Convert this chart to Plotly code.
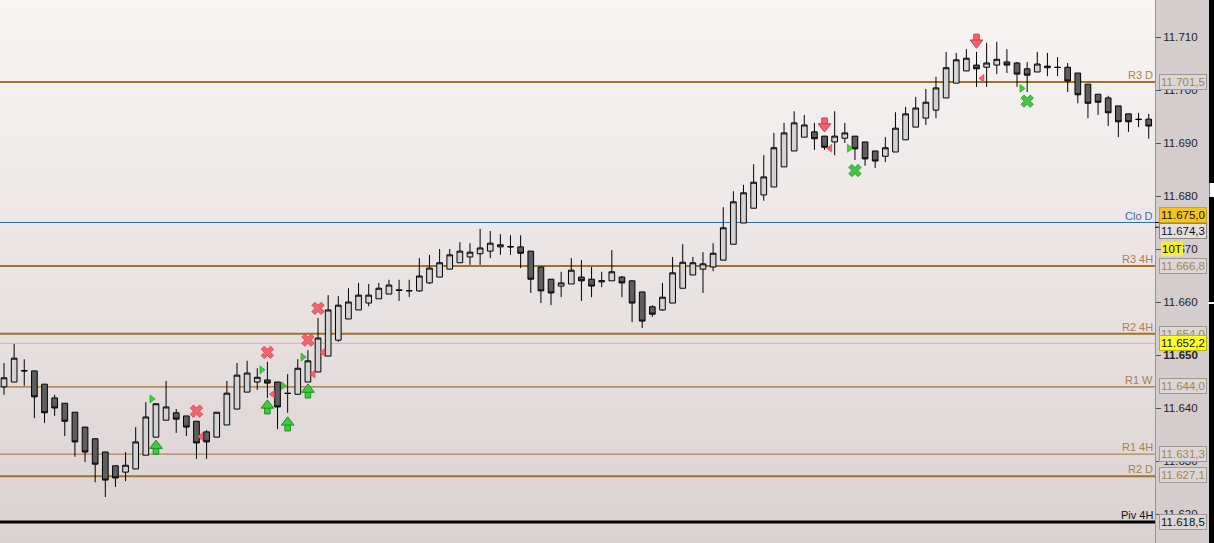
import plotly.graph_objects as go

# ---------------- data ----------------
open_ = [11.6440, 11.6449, 11.64708, 11.6470, 11.6445, 11.6419, 11.6409, 11.6392, 11.6364, 11.6342,
         11.6317, 11.6291, 11.6279, 11.6285, 11.6311, 11.6345, 11.6377, 11.6391, 11.6385, 11.6375,
         11.6355, 11.6345, 11.6368, 11.6398, 11.6430, 11.6449, 11.6453, 11.6449, 11.6428, 11.6426,
         11.6449, 11.6468, 11.6498, 11.6528, 11.6568, 11.6585, 11.6598, 11.6606, 11.6615, 11.6623,
         11.66217, 11.6621, 11.6636, 11.6647, 11.6662, 11.6674, 11.6685, 11.6691, 11.6696, 11.6704,
         11.67047, 11.6704, 11.6696, 11.6666, 11.6643, 11.6630, 11.6634, 11.6647, 11.6643, 11.6638,
         11.6640, 11.6647, 11.6640, 11.6619, 11.6591, 11.6585, 11.6598, 11.6626, 11.6651, 11.6662,
         11.6666, 11.6679, 11.6709, 11.6749, 11.6777, 11.6802, 11.6817, 11.6855, 11.6885, 11.6911,
         11.6921, 11.6913, 11.6902, 11.6909, 11.6913, 11.6902, 11.6885, 11.6875, 11.6883, 11.6906,
         11.6930, 11.6947, 11.6962, 11.6985, 11.7013, 11.7036, 11.7047, 11.7043, 11.7047, 11.7053,
         11.7051, 11.7040, 11.7034, 11.7042, 11.7043, 11.7043, 11.7032, 11.7011, 11.6992, 11.6985,
         11.6970, 11.6955, 11.6945, 11.6945]
high = [11.6485, 11.6521, 11.6492, 11.6470, 11.6445, 11.6425, 11.6409, 11.6392, 11.6364, 11.6342,
        11.6317, 11.6291, 11.6317, 11.6364, 11.6411, 11.6408, 11.6451, 11.6398, 11.6385, 11.6375,
        11.6358, 11.6392, 11.6451, 11.6485, 11.6489, 11.6475, 11.6487, 11.6449, 11.6464, 11.6492,
        11.6509, 11.6570, 11.6613, 11.6611, 11.6626, 11.6636, 11.6634, 11.6636, 11.6642, 11.6642,
        11.6642, 11.6683, 11.6689, 11.6700, 11.6700, 11.6713, 11.6711, 11.6738, 11.6734, 11.6728,
        11.6726, 11.6726, 11.6696, 11.6666, 11.6643, 11.6657, 11.6683, 11.6679, 11.6666, 11.6657,
        11.6698, 11.6649, 11.6640, 11.6619, 11.6594, 11.6636, 11.6685, 11.6709, 11.6685, 11.6694,
        11.6711, 11.6779, 11.6809, 11.6821, 11.6860, 11.6877, 11.6919, 11.6938, 11.6960, 11.6953,
        11.6938, 11.6913, 11.6960, 11.6938, 11.6913, 11.6902, 11.6885, 11.6911, 11.6958, 11.6968,
        11.6987, 11.7002, 11.7025, 11.7072, 11.7070, 11.7077, 11.7072, 11.7089, 11.7091, 11.7077,
        11.7053, 11.7053, 11.7072, 11.7070, 11.7062, 11.7051, 11.7032, 11.7011, 11.6992, 11.6989,
        11.6970, 11.6955, 11.6957, 11.6955]
low = [11.6425, 11.6449, 11.6442, 11.6381, 11.6372, 11.6385, 11.6347, 11.6308, 11.6298, 11.6260,
       11.6232, 11.6251, 11.6262, 11.6285, 11.6311, 11.6345, 11.6377, 11.6353, 11.6347, 11.6304,
       11.6304, 11.6345, 11.6368, 11.6398, 11.6430, 11.6434, 11.6419, 11.6360, 11.6391, 11.6426,
       11.6449, 11.6468, 11.6498, 11.6525, 11.6568, 11.6585, 11.6592, 11.6606, 11.6615, 11.6602,
       11.6609, 11.6619, 11.6634, 11.6647, 11.6662, 11.6674, 11.6670, 11.6670, 11.6683, 11.6689,
       11.6689, 11.6664, 11.6617, 11.6598, 11.6594, 11.6609, 11.6634, 11.6602, 11.6609, 11.6628,
       11.6640, 11.6609, 11.6562, 11.6551, 11.6572, 11.6583, 11.6598, 11.6626, 11.6651, 11.6617,
       11.6658, 11.6679, 11.6709, 11.6749, 11.6777, 11.6791, 11.6817, 11.6855, 11.6885, 11.6911,
       11.6887, 11.6887, 11.6877, 11.6900, 11.6868, 11.6857, 11.6853, 11.6864, 11.6883, 11.6906,
       11.6930, 11.6934, 11.6947, 11.6985, 11.7013, 11.7036, 11.7006, 11.7006, 11.7030, 11.7032,
       11.7006, 11.6996, 11.7034, 11.7026, 11.7026, 11.6996, 11.6975, 11.6947, 11.6953, 11.6932,
       11.6911, 11.6921, 11.6930, 11.6908]
close = [11.6457, 11.6494, 11.6470, 11.6421, 11.6391, 11.6400, 11.6375, 11.6336, 11.6317, 11.6294,
         11.6264, 11.6268, 11.6292, 11.6336, 11.6383, 11.6408, 11.6402, 11.6379, 11.6364, 11.6334,
         11.6336, 11.6392, 11.6428, 11.6462, 11.6466, 11.6458, 11.6447, 11.6402, 11.64274, 11.6475,
         11.6489, 11.6532, 11.6585, 11.6594, 11.6600, 11.6613, 11.6613, 11.6626, 11.6632, 11.66217,
         11.6621, 11.6649, 11.6664, 11.6674, 11.6689, 11.6696, 11.6694, 11.6702, 11.6711, 11.6708,
         11.6704, 11.6692, 11.6643, 11.6621, 11.6617, 11.6636, 11.6660, 11.6640, 11.6630, 11.6640,
         11.6657, 11.6636, 11.6598, 11.6564, 11.6577, 11.6609, 11.6655, 11.6675, 11.6674, 11.6672,
         11.6692, 11.6740, 11.6789, 11.6806, 11.6826, 11.6836, 11.6891, 11.6919, 11.6938, 11.6934,
         11.6908, 11.6892, 11.6913, 11.6919, 11.6889, 11.6870, 11.6866, 11.6891, 11.6928, 11.6955,
         11.6966, 11.6977, 11.7004, 11.7042, 11.7057, 11.7060, 11.7040, 11.7051, 11.7058, 11.7047,
         11.7030, 11.7028, 11.7049, 11.7045, 11.70425, 11.7017, 11.6991, 11.6975, 11.6977, 11.6957,
         11.6940, 11.6940, 11.69443, 11.6932]
bar_index = list(range(len(open_)))

# pivot / level lines
level_names = ["R3 D", "Clo D", "R3 4H", "R2 4H", "", "R1 W", "R1 4H", "R2 D", "Piv 4H"]
level_values = [11.7015, 11.6750, 11.6668, 11.6540, 11.6522, 11.6440, 11.6313, 11.6271, 11.6185]
level_colors = ["#a0712d", "#2f6f9f", "#a0712d", "#a0712d", "#f2a2aa", "#a0712d", "#a0712d", "#a0712d", "#000000"]
level_widths = [2, 1, 2, 2, 1, 1.3, 1, 2, 3]
level_label_colors = ["#a3834f", "#3d6fa8", "#a3834f", "#a3834f", "#000", "#a3834f", "#a3834f", "#a3834f", "#111111"]

# price boxes on the axis
box_texts = ["11.701,5", "11.675,0", "11.674,3", "11.666,8", "11.654,0", "11.652,2",
             "11.644,0", "11.631,3", "11.627,1", "11.618,5"]
box_values = [11.7015, 11.6750, 11.6743, 11.6668, 11.6540, 11.6522, 11.6440, 11.6313, 11.6271, 11.6185]

tick_values = [11.62, 11.63, 11.64, 11.65, 11.66, 11.67, 11.68, 11.69, 11.70, 11.71]
tick_labels = ["11.620", "11.630", "11.640", "<b>11.650</b>", "11.660", "11.670",
               "11.680", "11.690", "11.700", "11.710"]

# signal markers
buy_arrow_x = [15, 26, 28, 30]
buy_arrow_y = [11.6324, 11.6400, 11.6368, 11.6430]
sell_arrow_x = [81, 96]
sell_arrow_y = [11.6936, 11.7094]
buy_tri_x = [14.58, 25.44, 27.54, 29.49, 83.44, 100.46]
buy_tri_y = [11.6417, 11.6472, 11.6442, 11.6496, 11.6890, 11.7003]
sell_tri_x = [19.45, 26.53, 30.53, 31.52, 81.54, 96.57]
sell_tri_y = [11.6346, 11.6426, 11.6464, 11.6505, 11.6890, 11.7022]
red_x_x = [19, 26, 30, 31]
red_x_y = [11.6394, 11.6505, 11.6528, 11.6588]
green_x_x = [84, 101]
green_x_y = [11.6848, 11.6979]

# ---------------- figure ----------------
W, H = 1214, 543
PLOT_W = 1155
Y_RANGE = [11.614528, 11.716981]
X_RANGE = [-0.395, 113.62]
PX = (Y_RANGE[1] - Y_RANGE[0]) / H  # price per pixel

FONT = "Liberation Sans, Arial, sans-serif"

fig = go.Figure()

fig.add_trace(go.Candlestick(
    x=bar_index, open=open_, high=high, low=low, close=close,
    increasing=dict(fillcolor="#d3d3d3", line=dict(color="#000000", width=1)),
    decreasing=dict(fillcolor="#5e5e5e", line=dict(color="#000000", width=1)),
    whiskerwidth=0, showlegend=False, hoverinfo="skip",
))

GREEN, GREEN_D = "#3ccc3c", "#1f8a1f"
RED, RED_D = "#f2636f", "#c83c48"


def arrow(xs, ys, up, fill, edge):
    s = 1 if up else -1
    head_y = [y + s * 2.6 * PX for y in ys]
    shaft_y = [y - s * 3.2 * PX for y in ys]
    cover_y = [y - s * 2.6 * PX for y in ys]
    fig.add_trace(go.Scatter(x=xs, y=shaft_y, mode="markers", hoverinfo="skip", showlegend=False,
                             marker=dict(symbol="square", size=5.5, color=fill, line=dict(color=edge, width=1))))
    fig.add_trace(go.Scatter(x=xs, y=head_y, mode="markers", hoverinfo="skip", showlegend=False,
                             marker=dict(symbol="triangle-up" if up else "triangle-down", size=11,
                                         color=fill, line=dict(color=edge, width=1))))
    fig.add_trace(go.Scatter(x=xs, y=cover_y, mode="markers", hoverinfo="skip", showlegend=False,
                             marker=dict(symbol="square", size=4, color=fill, line=dict(width=0))))


arrow(buy_arrow_x, buy_arrow_y, True, GREEN, GREEN_D)
arrow(sell_arrow_x, sell_arrow_y, False, RED, RED_D)

fig.add_trace(go.Scatter(x=buy_tri_x, y=buy_tri_y, mode="markers", hoverinfo="skip", showlegend=False,
                         marker=dict(symbol="triangle-right", size=7, color=GREEN, line=dict(color=GREEN_D, width=0.5))))
fig.add_trace(go.Scatter(x=sell_tri_x, y=sell_tri_y, mode="markers", hoverinfo="skip", showlegend=False,
                         marker=dict(symbol="triangle-left", size=7, color=RED, line=dict(color=RED_D, width=0.5))))
fig.add_trace(go.Scatter(x=red_x_x, y=red_x_y, mode="markers", hoverinfo="skip", showlegend=False,
                         marker=dict(symbol="x", size=11, color=RED, line=dict(color=RED_D, width=0.7))))
fig.add_trace(go.Scatter(x=green_x_x, y=green_x_y, mode="markers", hoverinfo="skip", showlegend=False,
                         marker=dict(symbol="x", size=11, color="#44c444", line=dict(color=GREEN_D, width=0.7))))

shapes = []
# vertical background gradient of the plot area
top_rgb, bot_rgb = (249, 245, 245), (219, 210, 210)
N = 60
for k in range(N):
    t = (k + 0.5) / N
    c = tuple(round(top_rgb[i] + (bot_rgb[i] - top_rgb[i]) * t) for i in range(3))
    shapes.append(dict(type="rect", xref="paper", yref="paper", x0=0, x1=1,
                       y0=1 - (k + 1) / N, y1=1 - k / N + 0.001, layer="below",
                       line=dict(width=0), fillcolor="rgb(%d,%d,%d)" % c))
# level lines
for v, col, w in zip(level_values, level_colors, level_widths):
    shapes.append(dict(type="line", xref="paper", yref="y", x0=0, x1=1, y0=v, y1=v,
                       layer="below", line=dict(color=col, width=w)))
# right-hand black strip
shapes.append(dict(type="rect", xref="paper", yref="paper", x0=1209 / PLOT_W, x1=1.06, y0=0, y1=1,
                   line=dict(width=0), fillcolor="#000000", layer="above"))
shapes.append(dict(type="rect", xref="paper", yref="paper", x0=1209.5 / PLOT_W, x1=1.06,
                   y0=1 - 197 / H, y1=1 - 183 / H, line=dict(width=0), fillcolor="#ffffff", layer="above"))
shapes.append(dict(type="line", xref="paper", yref="paper", x0=1208 / PLOT_W, x1=1.06,
                   y0=1 - 303 / H, y1=1 - 303 / H, line=dict(color="#ffffff", width=2), layer="above"))
# small connector next to the close box
shapes.append(dict(type="path", xref="paper", yref="y",
                   path="M 1,%f L %f,%f L %f,%f L 1,%f" % (
                       11.6750, 1 + 6 / PLOT_W, 11.6750, 1 + 6 / PLOT_W, 11.6743 - 0.0002, 11.6743 - 0.0002),
                   line=dict(color="#000000", width=1), layer="above"))

annotations = []
for name, v, col in zip(level_names, level_values, level_label_colors):
    if not name:
        continue
    annotations.append(dict(x=1, xref="paper", y=v, yref="y", text=name, showarrow=False,
                            xanchor="right", yanchor="bottom", xshift=0, yshift=-1,
                            font=dict(family=FONT, size=11, color=col)))

brown_txt = "#a3834f"
box_style = {
    "11.701,5": dict(bg="#dcd6d6", border="#9e9898", fc=brown_txt, shift=0),
    "11.675,0": dict(bg="#f5c51a", border="#c9a21a", fc="#111111", shift=8),
    "11.674,3": dict(bg="#e4e0e0", border="#8a8484", fc="#111111", shift=-5),
    "11.666,8": dict(bg="#dcd6d6", border="#9e9898", fc=brown_txt, shift=0),
    "11.654,0": dict(bg="#dcd6d6", border="#9e9898", fc=brown_txt, shift=0),
    "11.652,2": dict(bg="#ffff22", border="#b8b800", fc="#111111", shift=0),
    "11.644,0": dict(bg="#dcd6d6", border="#9e9898", fc=brown_txt, shift=1),
    "11.631,3": dict(bg="#dcd6d6", border="#9e9898", fc=brown_txt, shift=0),
    "11.627,1": dict(bg="#dcd6d6", border="#9e9898", fc=brown_txt, shift=1),
    "11.618,5": dict(bg="#dcd6d6", border="#9e9898", fc="#111111", shift=0),
}
for txt, v in zip(box_texts, box_values):
    st = box_style[txt]
    annotations.append(dict(x=1, xref="paper", y=v, yref="y", text=txt, showarrow=False,
                            xanchor="left", yanchor="middle", xshift=4, yshift=st["shift"],
                            bgcolor=st["bg"], bordercolor=st["border"], borderwidth=1, borderpad=1,
                            font=dict(family=FONT, size=11.5, color=st["fc"])))
# timer box
annotations.append(dict(x=1, xref="paper", y=11.6700, yref="y", text="10T", showarrow=False,
                        xanchor="left", yanchor="middle", xshift=6, yshift=0,
                        bgcolor="#f7ee3c", borderwidth=0, borderpad=1,
                        font=dict(family=FONT, size=11.5, color="#111111")))

fig.update_layout(
    width=W, height=H,
    margin=dict(l=0, r=W - PLOT_W, t=0, b=0),
    paper_bgcolor="#d5cdcd",
    plot_bgcolor="#f4f0f0",
    showlegend=False,
    boxgap=0.2,
    shapes=shapes,
    annotations=annotations,
    xaxis=dict(range=X_RANGE, visible=False, rangeslider=dict(visible=False), fixedrange=True),
    yaxis=dict(range=Y_RANGE, side="right", showgrid=False, zeroline=False,
               tickvals=tick_values, ticktext=tick_labels,
               ticks="outside", ticklen=5, tickcolor="#555555", tickwidth=1,
               showline=True, linecolor="#9a9292", linewidth=1,
               tickfont=dict(family=FONT, size=11.5, color="#222222")),
)

fig.write_html("out.html", config={"displayModeBar": False},
               post_script="document.body.style.margin='0';document.body.style.overflow='hidden';")
